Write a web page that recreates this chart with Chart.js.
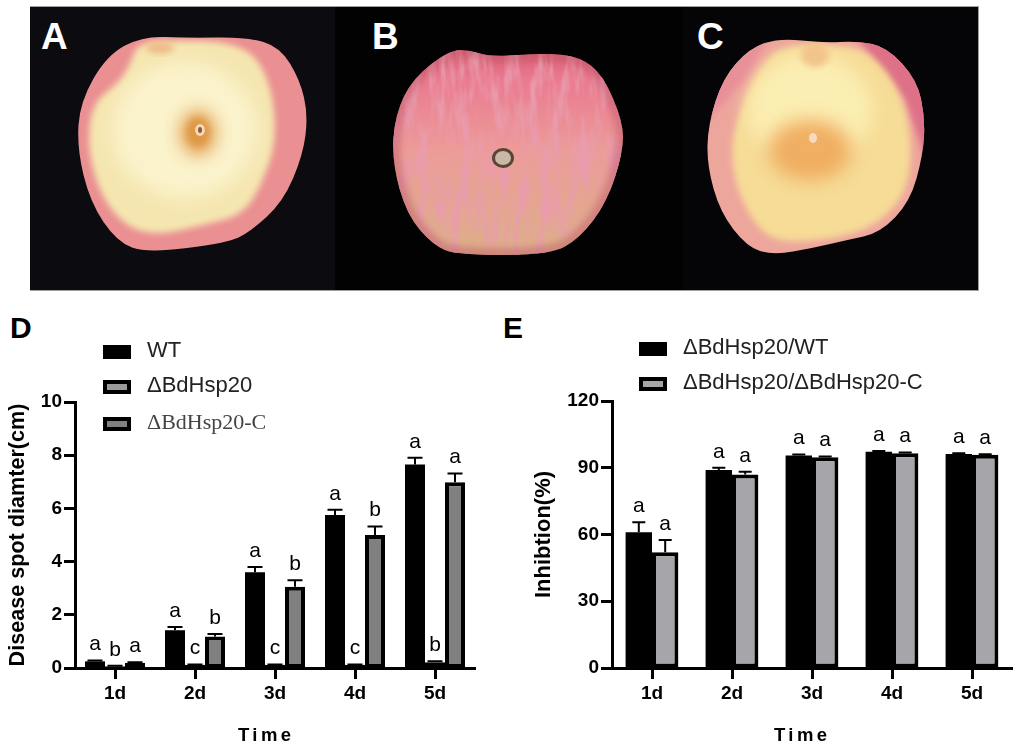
<!DOCTYPE html>
<html>
<head>
<meta charset="utf-8">
<title>BdHsp20 apple assay</title>
<script src="https://cdn.jsdelivr.net/npm/chart.js@4"></script>
<style>
  html, body { margin: 0; background: #fff; width: 1021px; height: 750px; overflow: hidden; }
  body { position: relative; font-family: "Liberation Sans", Arial, sans-serif; color: #000; }
  canvas, svg, .tag, .time, .legend { position: absolute; }
  .tag { font-weight: bold; line-height: 1; }
  .tag.light { color: #fff; font-size: 37px; top: 18px; }
  .tag.dark { font-size: 30px; top: 313px; }
  .time { top: 724px; font-size: 18.5px; font-weight: bold; letter-spacing: 3.4px; line-height: 22px; }
  .legend-row { position: absolute; white-space: nowrap; line-height: 24px; height: 24px; font-size: 22px; }
  .legend-row i { position: absolute; left: 0; top: 4px; width: 20px; height: 6px; border: 4px solid #000; box-sizing: content-box; }
  .legend-row span { position: absolute; left: 44px; top: -3px; }
</style>
</head>
<body>
<svg width="1021" height="300" viewBox="0 0 1021 300" style="left:0;top:0">
  <defs>
    <filter id="soft" x="-20%" y="-20%" width="140%" height="140%"><feGaussianBlur stdDeviation="3"/></filter>
    <filter id="softer" x="-50%" y="-50%" width="200%" height="200%"><feGaussianBlur stdDeviation="9"/></filter>
    <filter id="streaks" x="0" y="0" width="100%" height="100%">
      <feTurbulence type="fractalNoise" baseFrequency="0.1 0.022" numOctaves="3" seed="7"/>
      <feColorMatrix type="matrix" values="0 0 0 0 0.82  0 0 0 0 0.33  0 0 0 0 0.42  3.2 0 0 0 -1.35"/>
    </filter>
    <linearGradient id="skinB" x1="0" y1="0" x2="0" y2="1">
      <stop offset="0" stop-color="#d95a70"/>
      <stop offset="0.16" stop-color="#ea7a90"/>
      <stop offset="0.5" stop-color="#ec9c98"/>
      <stop offset="1" stop-color="#dcb088"/>
    </linearGradient>
    <clipPath id="clipA"><path data-outline="outlineA"/></clipPath>
    <clipPath id="clipB"><path data-outline="outlineB"/></clipPath>
    <clipPath id="clipC"><path data-outline="outlineC"/></clipPath>
  </defs>
  <rect x="30" y="6" width="305" height="285" fill="#a0a0a0"/>
  <rect x="335" y="6" width="348" height="285" fill="#a0a0a0"/>
  <rect x="683" y="6" width="296" height="285" fill="#a0a0a0"/>
  <rect x="30" y="7" width="305" height="283" fill="#0c0c10"/>
  <rect x="335" y="7" width="348" height="283" fill="#020203"/>
  <rect x="683" y="7" width="295" height="283" fill="#050507"/>

  <g clip-path="url(#clipA)">
    <rect x="70" y="30" width="245" height="230" fill="#ea8f92"/>
    <path data-outline="creamA" filter="url(#soft)" fill="#f5e6b0"/>
    <ellipse cx="185" cy="130" rx="72" ry="68" fill="#fbf3cc" filter="url(#softer)"/>
    <ellipse cx="160" cy="48" rx="14" ry="6" fill="#eebb88" filter="url(#soft)"/>
    <ellipse cx="198" cy="133" rx="17" ry="22" fill="#dd8b34" opacity="0.9" filter="url(#softer)"/>
    <ellipse cx="198" cy="132" rx="11" ry="14" fill="#dc9440" opacity="0.75" filter="url(#soft)"/>
    <ellipse cx="200" cy="130" rx="5" ry="6" fill="#f3d9b8"/>
    <ellipse cx="200" cy="130" rx="2" ry="3" fill="#8a5a3c"/>
  </g>

  <g clip-path="url(#clipB)">
    <rect x="385" y="45" width="255" height="215" fill="url(#skinB)"/>
    <rect x="385" y="45" width="255" height="215" filter="url(#streaks)"/>
    <path data-outline="outlineB" fill="none" stroke="#b8505f" stroke-width="14" opacity="0.4" filter="url(#soft)"/>
    <ellipse cx="503" cy="158" rx="11" ry="10" fill="#5a4438"/>
    <ellipse cx="503" cy="158" rx="8" ry="7" fill="#c9b8a6"/>
  </g>

  <g clip-path="url(#clipC)">
    <rect x="700" y="35" width="230" height="225" fill="#eda69c"/>
    <path d="M855,35 L930,35 L930,170 L905,100 Z" fill="#de7188" filter="url(#soft)"/>
    <path d="M770,35 L700,80 L700,130 L745,80 Z" fill="#e8909a" filter="url(#soft)"/>
    <path data-outline="creamC" filter="url(#soft)" fill="#f6dc96"/>
    <ellipse cx="810" cy="110" rx="62" ry="55" fill="#fbeeb2" filter="url(#softer)"/>
    <ellipse cx="815" cy="55" rx="14" ry="12" fill="#f2c48a" filter="url(#soft)"/>
    <ellipse cx="810" cy="150" rx="42" ry="30" fill="#ee9f50" opacity="0.8" filter="url(#softer)"/>
    <ellipse cx="813" cy="138" rx="4" ry="5" fill="#f5dcc0"/>
  </g>
</svg>
<div class="tag light" style="left:41px">A</div>
<div class="tag light" style="left:372px">B</div>
<div class="tag light" style="left:697px">C</div>
<div class="tag dark" style="left:10px">D</div>
<div class="tag dark" style="left:503px">E</div>

<canvas id="chartD" width="500" height="450" style="left:0;top:300px"></canvas>
<canvas id="chartE" width="521" height="450" style="left:500px;top:300px"></canvas>
<div class="legend" id="legendD" style="left:103px;top:0"></div>
<div class="legend" id="legendE" style="left:639px;top:0"></div>
<div class="time" style="left:238px">Time</div>
<div class="time" style="left:774px">Time</div>

<script>
const days = ["1d", "2d", "3d", "4d", "5d"];

const spotTicks = [0, 2, 4, 6, 8, 10];
const wtSpot = [0.25, 1.42, 3.6, 5.75, 7.65];
const wtSpotErr = [0.03, 0.12, 0.2, 0.2, 0.25];
const wtSpotLetters = ["a", "a", "a", "a", "a"];
const mutantSpot = [0.07, 0.12, 0.12, 0.12, 0.22];
const mutantSpotErr = [0.01, 0.01, 0.01, 0.01, 0.03];
const mutantSpotLetters = ["b", "c", "c", "c", "b"];
const compSpot = [0.2, 1.18, 3.05, 5.0, 6.98];
const compSpotErr = [0.02, 0.1, 0.25, 0.32, 0.33];
const compSpotLetters = ["a", "b", "b", "b", "a"];

const inhibitionTicks = [0, 30, 60, 90, 120];
const vsWt = [61, 89, 95.5, 97.2, 96.2];
const vsWtErr = [4.5, 1, 0.4, 0.3, 0.3];
const vsWtLetters = ["a", "a", "a", "a", "a"];
const vsComp = [52, 87, 94.7, 96.5, 95.8];
const vsCompErr = [5.5, 1.2, 0.4, 0.3, 0.3];
const vsCompLetters = ["a", "a", "a", "a", "a"];

const FONT = '"Liberation Sans", Arial, sans-serif';

// rough traces of the apple photos, only used for the decorative panel on top
const photoTraces = {
  outlineA: [[143,36],[187,38],[247,37],[280,47],[300,80],[308,115],[303,155],[283,202],[250,232],[227,243],[147,253],[117,242],[90,202],[77,148],[80,102],[107,55]],
  creamA: [[136,46],[157,40],[243,42],[270,78],[277,138],[263,182],[243,215],[203,225],[160,235],[127,228],[100,195],[87,145],[93,102],[118,84],[130,65]],
  outlineB: [[450,50],[470,50],[490,57],[547,53],[580,57],[603,75],[623,122],[623,152],[607,202],[580,238],[550,255],[457,255],[433,245],[407,215],[392,162],[395,115],[413,78]],
  outlineC: [[780,38],[823,43],[857,41],[887,47],[917,80],[925,118],[923,155],[910,202],[880,233],[847,240],[813,248],[773,255],[747,247],[720,212],[707,165],[708,125],[723,78],[750,48]],
  creamC: [[780,45],[853,45],[880,62],[903,98],[912,145],[907,192],[877,225],[837,238],[787,243],[760,232],[737,192],[730,145],[743,102],[760,68]],
};

function smoothPath(points) {
  const mid = (a, b) => [(a[0] + b[0]) / 2, (a[1] + b[1]) / 2];
  const start = mid(points[points.length - 1], points[0]);
  let d = `M${start[0]},${start[1]}`;
  points.forEach((p, i) => {
    const m = mid(p, points[(i + 1) % points.length]);
    d += ` Q${p[0]},${p[1]} ${m[0]},${m[1]}`;
  });
  return d + " Z";
}

document.querySelectorAll("[data-outline]").forEach((el) => {
  el.setAttribute("d", smoothPath(photoTraces[el.dataset.outline]));
});

// error bars and significance letters, both read from the dataset
const annotate = {
  id: "annotate",
  afterDatasetsDraw(chart) {
    const { ctx, scales } = chart;
    ctx.save();
    chart.data.datasets.forEach((ds, i) => {
      chart.getDatasetMeta(i).data.forEach((bar, j) => {
        const top = scales.y.getPixelForValue(ds.data[j] + ds.errors[j]);
        const base = scales.y.getPixelForValue(ds.data[j]);
        const half = chart.options.plugins.annotate.capWidth / 2;
        ctx.strokeStyle = "#000";
        ctx.lineWidth = 2;
        ctx.beginPath();
        ctx.moveTo(bar.x, base);
        ctx.lineTo(bar.x, top);
        ctx.moveTo(bar.x - half, top);
        ctx.lineTo(bar.x + half, top);
        ctx.stroke();
        ctx.fillStyle = "#000";
        ctx.font = "21px " + FONT;
        ctx.textAlign = "center";
        ctx.textBaseline = "middle";
        ctx.fillText(ds.letters[j], bar.x, top - chart.options.plugins.annotate.letterGap);
      });
    });
    ctx.restore();
  },
};

function series(label, data, errors, letters, color) {
  return {
    label, data, errors, letters,
    backgroundColor: color,
    borderColor: "#000",
    borderWidth: color === "#000" ? 0 : 4,
    borderSkipped: false,
  };
}

function drawChart(canvasId, datasets, cfg) {
  new Chart(document.getElementById(canvasId), {
    type: "bar",
    data: { labels: days, datasets },
    plugins: [annotate],
    options: {
      responsive: false,
      animation: false,
      events: [],
      categoryPercentage: cfg.groupShare,
      barPercentage: 1,
      layout: { padding: { top: cfg.top, right: cfg.right, left: 0, bottom: 0 } },
      plugins: {
        legend: { display: false },
        tooltip: { enabled: false },
        annotate: { capWidth: cfg.capWidth, letterGap: 16 },
      },
      scales: {
        x: {
          afterFit(scale) { scale.height = 82; },
          border: { color: "#000", width: 3 },
          grid: { offset: false, drawOnChartArea: false, drawTicks: true, tickLength: 11, tickColor: "#000", tickWidth: 3 },
          ticks: { color: "#000", font: { family: FONT, size: 19, weight: "bold" }, padding: 3, maxRotation: 0 },
        },
        y: {
          min: cfg.ticks[0],
          max: cfg.ticks[cfg.ticks.length - 1],
          afterFit(scale) { scale.width = cfg.axisLeft; },
          afterBuildTicks(scale) { scale.ticks = cfg.ticks.map((value) => ({ value })); },
          border: { color: "#000", width: 3 },
          grid: { drawOnChartArea: false, drawTicks: true, tickLength: 11, tickColor: "#000", tickWidth: 3 },
          ticks: { color: "#000", font: { family: FONT, size: 19, weight: "bold" }, padding: 2 },
          title: {
            display: true,
            text: cfg.yTitle,
            color: "#000",
            font: { family: FONT, size: cfg.yTitleSize, weight: "bold" },
            padding: { top: cfg.titleInset, bottom: 0 },
          },
        },
      },
    },
  });
}

function drawLegend(targetId, rows) {
  document.getElementById(targetId).innerHTML = rows
    .map(([label, color, top, family, ink]) => `<div class="legend-row" style="top:${top}px;font-family:'${family}';color:${ink}">
        <i style="background:${color}"></i><span>${label}</span>
      </div>`)
    .join("");
}

drawChart("chartD", [
  series("WT", wtSpot, wtSpotErr, wtSpotLetters, "#000"),
  series("ΔBdHsp20", mutantSpot, mutantSpotErr, mutantSpotLetters, "#9c9c9c"),
  series("ΔBdHsp20-C", compSpot, compSpotErr, compSpotLetters, "#808080"),
], { groupShare: 0.75, top: 102, right: 25, axisLeft: 75, capWidth: 15, ticks: spotTicks, yTitle: "Disease spot diamter(cm)", yTitleSize: 21.6, titleInset: 5 });

drawChart("chartE", [
  series("ΔBdHsp20/WT", vsWt, vsWtErr, vsWtLetters, "#000"),
  series("ΔBdHsp20/ΔBdHsp20-C", vsComp, vsCompErr, vsCompLetters, "#a6a6aa"),
], { groupShare: 0.66, top: 101, right: 9, axisLeft: 112, capWidth: 13, ticks: inhibitionTicks, yTitle: "Inhibtion(%)", yTitleSize: 22, titleInset: 31 });

drawLegend("legendD", [
  ["WT", "#000", 341, "Liberation Sans", "#222"],
  ["ΔBdHsp20", "#9c9c9c", 376, "Liberation Sans", "#222"],
  ["ΔBdHsp20-C", "#808080", 413, "Liberation Serif", "#444"],
]);
drawLegend("legendE", [
  ["ΔBdHsp20/WT", "#000", 338, "Liberation Sans", "#222"],
  ["ΔBdHsp20/ΔBdHsp20-C", "#a6a6aa", 373, "Liberation Sans", "#222"],
]);
</script>
</body>
</html>
